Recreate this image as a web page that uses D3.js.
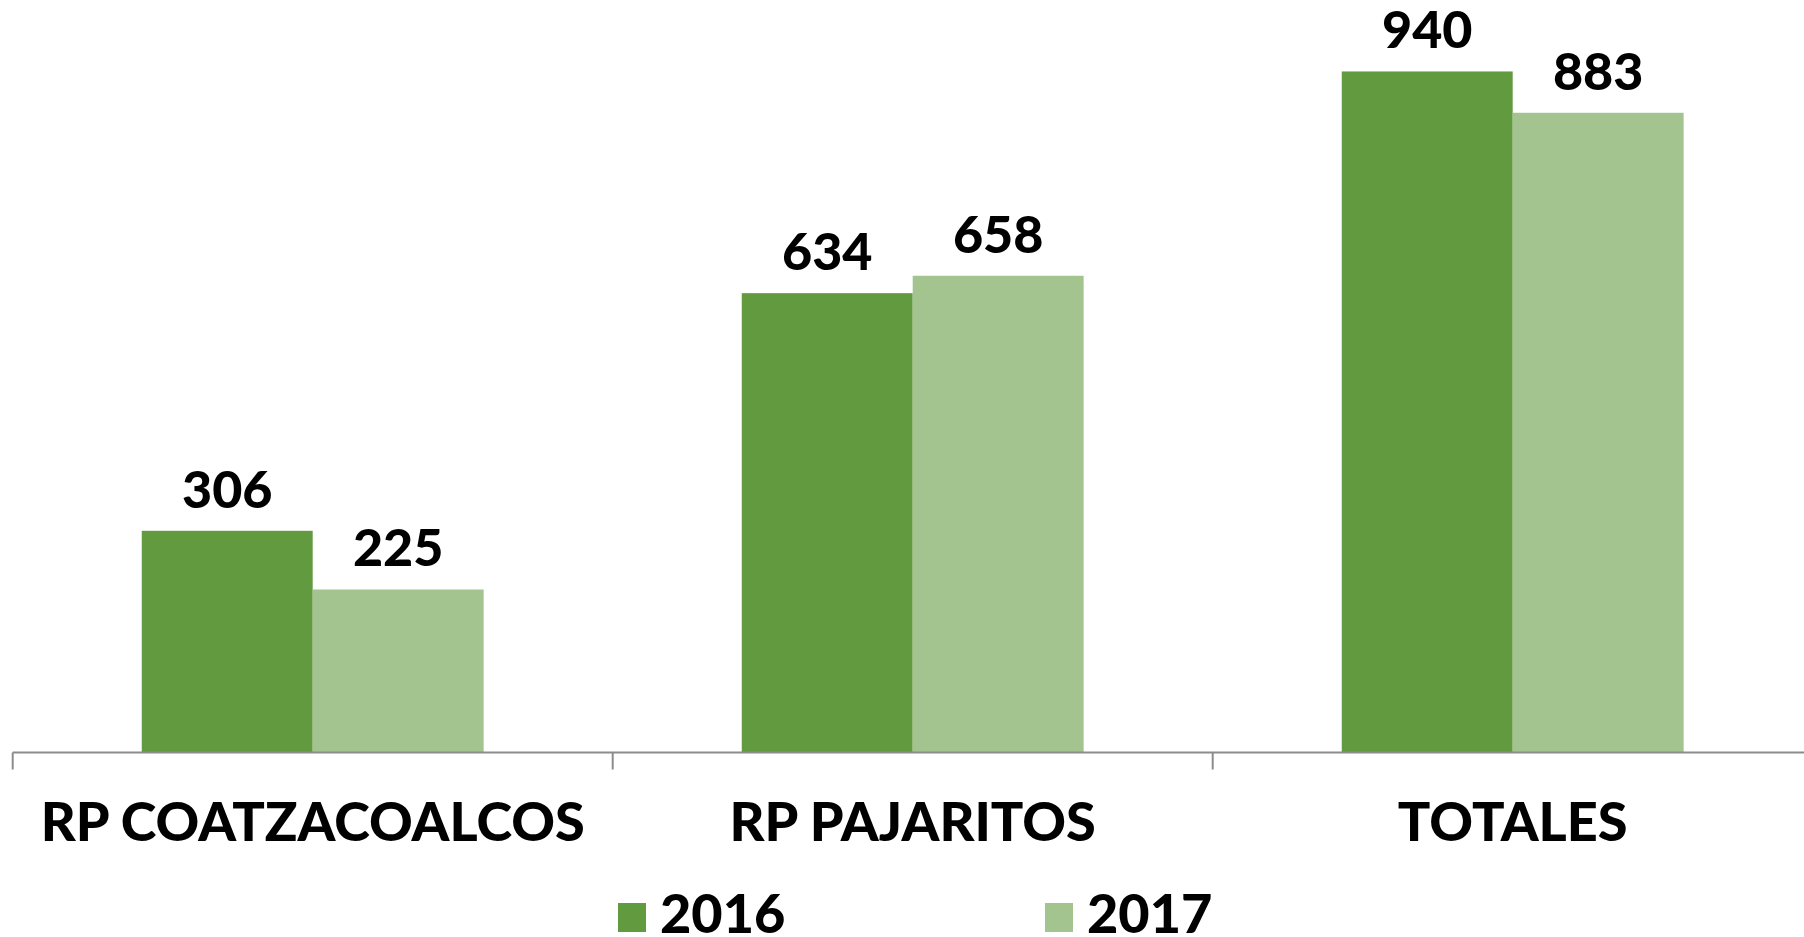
<!DOCTYPE html>
<html>
<head>
<meta charset="utf-8">
<script src="https://cdn.jsdelivr.net/npm/d3@7"></script>
<style>
  body { margin: 0; background: #fff; }
  svg text { font-family: Lato, "Open Sans", sans-serif; font-weight: 900; fill: #000; }
</style>
</head>
<body>
<div id="chart"></div>
<script>
// chart data
const categories = ["RP COATZACOALCOS", "RP PAJARITOS", "TOTALES"];
const seriesNames = ["2016", "2017"];
const values2016 = [306, 634, 940];
const values2017 = [225, 658, 883];
const colors = ["#629a3f", "#a3c48f"];

const width = 1804, height = 937;
const axisY = 752.5;

const svg = d3.select("#chart")
    .append("svg")
    .attr("width", width)
    .attr("height", height);

// each band is ~600px wide, the third one runs past the right edge
let x = d3.scaleBand()
    .domain(categories)
    .range([12.7, 12.7 + 600 * 3])
    .paddingInner(0)
    .paddingOuter(0);

let x1 = d3.scaleBand()
    .domain(seriesNames)
    .range([0, x.bandwidth()])
    .paddingInner(0)
    .paddingOuter(0.755);

let y = d3.scaleLinear()
    .domain([0, 1000])
    .range([axisY, 28]);

const rows = categories.map((c, i) => ({
    cat: c,
    vals: [
        { name: seriesNames[0], value: values2016[i], color: colors[0] },
        { name: seriesNames[1], value: values2017[i], color: colors[1] }
    ]
}));

const groups = svg.selectAll(".group")
    .data(rows)
    .enter()
    .append("g")
    .attr("class", "group")
    .attr("transform", d => "translate(" + x(d.cat) + ",0)");

groups.selectAll(".bar")
    .data(d => d.vals)
    .enter()
    .append("rect")
    .attr("class", "bar")
    .attr("x", d => x1(d.name))
    .attr("y", d => y(d.value))
    .attr("width", x1.bandwidth())
    .attr("height", d => axisY - y(d.value))
    .attr("fill", d => d.color);

groups.selectAll(".label")
    .data(d => d.vals)
    .enter()
    .append("text")
    .attr("class", "label")
    .attr("x", d => x1(d.name) + x1.bandwidth() / 2)
    .attr("y", d => y(d.value) - 23)
    .attr("text-anchor", "middle")
    .style("font-size", "52px")
    .text(d => d.value);

// x axis: line, ticks at band edges, labels below
const axis = svg.append("g").attr("transform", "translate(0," + axisY + ")");
axis.append("line")
    .attr("x1", 12.7).attr("x2", width)
    .attr("stroke", "#8c8c8c").attr("stroke-width", 2);
axis.selectAll(".tick")
    .data(categories)
    .enter()
    .append("line")
    .attr("class", "tick")
    .attr("x1", d => x(d)).attr("x2", d => x(d))
    .attr("y1", 0).attr("y2", 17)
    .attr("stroke", "#8c8c8c").attr("stroke-width", 2);
axis.selectAll(".catlabel")
    .data(categories)
    .enter()
    .append("text")
    .attr("class", "catlabel")
    .attr("x", d => x(d) + x.bandwidth() / 2)
    .attr("y", 841 - axisY)
    .attr("text-anchor", "middle")
    .style("font-size", "54px")
    .text(d => d);

// legend
const legendX = d3.scaleOrdinal().domain(seriesNames).range([618, 1045]);
const legend = svg.selectAll(".legend")
    .data(seriesNames)
    .enter()
    .append("g")
    .attr("class", "legend")
    .attr("transform", d => "translate(" + legendX(d) + ",903)");
legend.append("rect")
    .attr("width", 28).attr("height", 29)
    .attr("fill", (d, i) => colors[i]);
legend.append("text")
    .attr("x", 42).attr("y", 30)
    .style("font-size", "54px")
    .text(d => d);
</script>
</body>
</html>
